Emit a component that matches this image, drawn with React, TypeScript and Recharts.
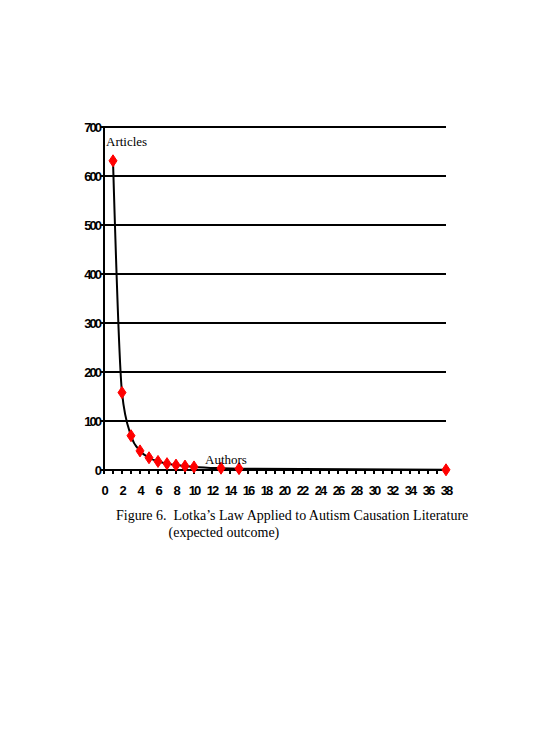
import { CartesianGrid, Line, LineChart, XAxis, YAxis } from "recharts";

// authors with n articles (Lotka's expected outcome)
const articleCounts = [1, 2, 3, 4, 5, 6, 7, 8, 9, 10, 13, 15, 38];
const authorValues = [631, 158, 70, 39, 25, 17.5, 13, 10, 8, 6.3, 3.7, 2.8, 0.4];

const yTicks = [0, 100, 200, 300, 400, 500, 600, 700];
const xTicks = Array.from({ length: 39 }, (_, i) => i);

const data = articleCounts.map((n, i) => ({ n, authors: authorValues[i] }));

const tickFont = {
  fontFamily: "'Liberation Sans', Arial, sans-serif",
  fontWeight: 700,
  fontSize: 13,
  letterSpacing: -2,
  fill: "#000",
};

function Diamond(props: any) {
  const { cx, cy } = props;
  if (cx == null || cy == null) return null;
  return (
    <path
      d={`M${cx},${cy - 6} L${cx + 4},${cy} L${cx},${cy + 6} L${cx - 4},${cy} Z`}
      fill="#ff0000"
      stroke="#ff0000"
      strokeWidth={1}
    />
  );
}

function XTick(props: any) {
  const { x, y, payload } = props;
  if (payload.value % 2 !== 0) return null;
  return (
    <text x={x} y={y + 19} textAnchor="middle" {...tickFont}>
      {payload.value}
    </text>
  );
}

function YTick(props: any) {
  const { x, y, payload } = props;
  return (
    <text x={x + 2} y={y + 5} textAnchor="end" {...tickFont}>
      {payload.value}
    </text>
  );
}

const serif = "'Liberation Serif', 'Times New Roman', serif";

export default function App() {
  return (
    <div style={{ position: "absolute", left: 0, top: 0, width: 560, height: 747, background: "#fff" }}>
      <LineChart
        width={560}
        height={747}
        data={data}
        margin={{ top: 127, right: 114, left: 74, bottom: 247 }}
      >
        <CartesianGrid horizontal vertical={false} stroke="#000" strokeWidth={2} />
        <XAxis
          dataKey="n"
          type="number"
          domain={[0, 38]}
          ticks={xTicks}
          interval={0}
          height={30}
          axisLine={{ stroke: "#000", strokeWidth: 2 }}
          tickLine={{ stroke: "#000", strokeWidth: 2 }}
          tickSize={4}
          tick={<XTick />}
        />
        <YAxis
          type="number"
          domain={[0, 700]}
          ticks={yTicks}
          interval={0}
          width={30}
          axisLine={{ stroke: "#000", strokeWidth: 2 }}
          tickLine={{ stroke: "#000", strokeWidth: 2 }}
          tickSize={4}
          tick={<YTick />}
        />
        <Line
          type="monotone"
          dataKey="authors"
          stroke="#000"
          strokeWidth={2}
          dot={<Diamond />}
          activeDot={false}
          isAnimationActive={false}
        />
      </LineChart>
      <div style={{ position: "absolute", left: 106, top: 134, fontFamily: serif, fontSize: 13 }}>Articles</div>
      <div style={{ position: "absolute", left: 205, top: 452, fontFamily: serif, fontSize: 13 }}>Authors</div>
      <div
        style={{
          position: "absolute",
          left: 116,
          top: 507,
          fontFamily: serif,
          fontSize: 14,
          lineHeight: "17px",
          whiteSpace: "pre",
        }}
      >
        {"Figure 6.  Lotka\u2019s Law Applied to Autism Causation Literature\n               (expected outcome)"}
      </div>
    </div>
  );
}
